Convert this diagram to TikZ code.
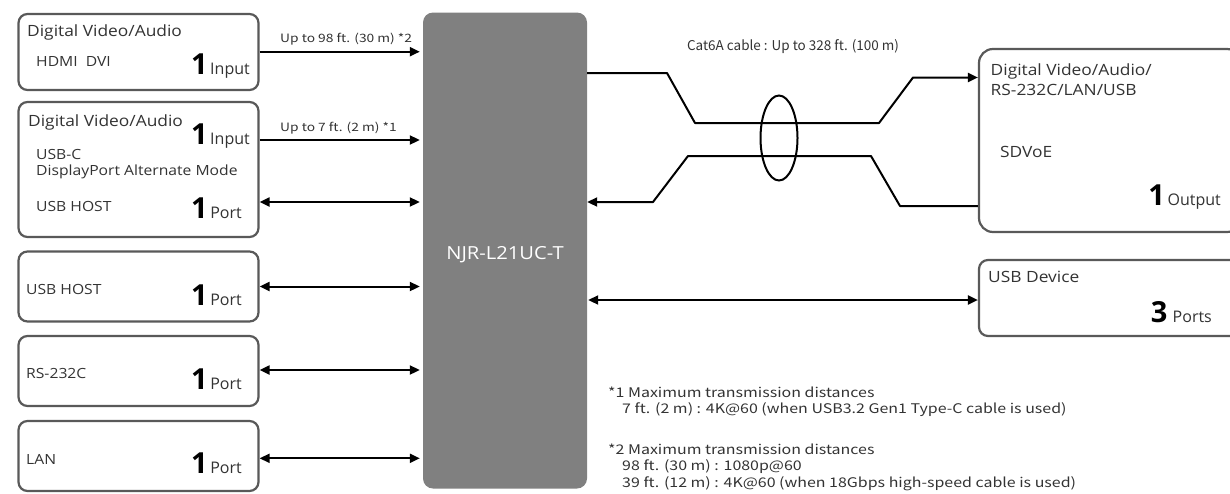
\documentclass[tikz,border=0pt]{standalone}
\usepackage{fontspec}
\setmainfont[FakeStretch=1.12]{Open Sans}
\newfontfamily\plainfont{Open Sans}
\newfontfamily\jpfont{Noto Sans CJK JP}
\newfontfamily\widefont[FakeStretch=1.2]{Noto Sans CJK JP}
\usetikzlibrary{arrows.meta,positioning,shapes.geometric}

\definecolor{boxline}{HTML}{595959}
\definecolor{hubgray}{HTML}{808080}
\definecolor{txtgray}{HTML}{333333}

\tikzset{
  portbox/.style={draw=boxline, line width=2.2pt, rounded corners=9pt, fill=white,
    minimum width=240pt, inner sep=0pt},
  wire/.style={line width=2pt, -{Triangle[length=10pt,width=9pt]}},
  bwire/.style={line width=2pt, {Triangle[length=10pt,width=9pt]}-{Triangle[length=10pt,width=9pt]}},
  head/.style={text=txtgray, inner sep=0pt, anchor=base west, font=\fontsize{15.5}{15.5}\selectfont},
  sub/.style={text=txtgray, inner sep=0pt, anchor=base west, font=\fontsize{14}{14}\selectfont},
  count/.style={inner sep=0pt, anchor=base east, text=txtgray, font=\plainfont\fontsize{16}{16}\selectfont},
  note/.style={text=txtgray, inner sep=0pt, anchor=base west, font=\widefont\fontsize{13.3}{13.3}\selectfont},
}
\newcommand{\num}[1]{{\color{black}\plainfont\fontsize{29}{29}\bfseries #1}}

\begin{document}
\begin{tikzpicture}[x=1pt,y=-1pt]
  \useasboundingbox (0,0) rectangle (1230,493);

  % centre unit
  \node[fill=hubgray, rounded corners=10pt, minimum width=164pt, minimum height=476pt] (hub) at (505,250.5) {};
  \node[text=white, inner sep=0pt, font=\fontsize{18}{18}\selectfont] (hubname) at (505,254.5) {NJR-L21UC-T};

  % left side boxes
  \node[portbox, minimum height=76pt] (hdmi) at (138.5,52) {};
  \node[portbox, minimum height=135pt] (usbc) at (138.5,169.5) {};
  \node[portbox, minimum height=70pt] (host) at (138.5,286.5) {};
  \node[portbox, minimum height=70pt] (serial) at (138.5,371) {};
  \node[portbox, minimum height=70pt] (lan) at (138.5,456) {};

  \node[head] (hdmiA) at (27,36.5) {Digital Video/Audio};
  \node[sub] (hdmiB) at (36,66) {HDMI\ \ DVI};
  \node[count] (hdmiC) at (250,74) {\num{1}\,Input};

  \node[head] (usbcA) at (28,126.5) {Digital Video/Audio};
  \node[count] (usbcB) at (250,144) {\num{1}\,Input};
  \node[sub] (usbcC) at (36,159) {USB-C};
  \node[sub] (usbcD) at (36,175.5) {DisplayPort Alternate Mode};
  \node[sub] (usbcE) at (36,211.5) {USB HOST};
  \node[count] (usbcF) at (242,218) {\num{1}\,Port};

  \node[sub] (hostA) at (26,294) {USB HOST};
  \node[count] (hostB) at (242,305.5) {\num{1}\,Port};
  \node[sub] (serialA) at (26,378) {RS-232C};
  \node[count] (serialB) at (242,389) {\num{1}\,Port};
  \node[sub] (lanA) at (26,464) {LAN};
  \node[count] (lanB) at (242,473) {\num{1}\,Port};

  % right side boxes
  \node[portbox, minimum width=262pt, minimum height=183pt, rounded corners=14pt] (sink) at (1110,140.5) {};
  \node[head] (sinkA) at (990.5,75) {Digital Video/Audio/};
  \node[head] (sinkB) at (990.5,95.5) {RS-232C/LAN/USB};
  \node[head] (sinkC) at (1000,157.5) {SDVoE};
  \node[count] (sinkD) at (1221,205) {\num{1}\,Output};

  \node[portbox, minimum width=262pt, minimum height=76pt] (usbdev) at (1110,298) {};
  \node[head] (usbdevA) at (988,282) {USB Device};
  \node[count] (usbdevB) at (1212,322) {\num{3}\,\,Ports};

  % left connectors
  \draw[wire, shorten >=3pt] ([yshift=0.3pt]hdmi.east) -- ([yshift=0.3pt]hdmi.east -| hub.west)
    node[note, pos=0.12, above=9pt, anchor=base west, font=\widefont\fontsize{11.5}{11.5}\selectfont] (lblA) {Up to 98 ft. (30 m) *2};
  \draw[wire, shorten >=3pt] ([yshift=29.5pt]usbc.east) -- ([yshift=29.5pt]usbc.east -| hub.west)
    node[note, pos=0.12, above=9pt, anchor=base west, font=\widefont\fontsize{11.5}{11.5}\selectfont] (lblB) {Up to 7 ft. (2 m) *1};
  \draw[bwire, shorten >=3pt] ([yshift=-32.5pt]usbc.east) -- ([yshift=-32.5pt]usbc.east -| hub.west);
  \draw[bwire, shorten >=3pt] (host.east) -- (host.east -| hub.west);
  \draw[bwire, shorten >=3pt] ([yshift=1pt]serial.east) -- ([yshift=1pt]serial.east -| hub.west);
  \draw[bwire, shorten >=3pt] ([yshift=-2.3pt]lan.east) -- ([yshift=-2.3pt]lan.east -| hub.west);

  % cable to receiver
  \node[draw, ellipse, line width=2pt, minimum width=37pt, minimum height=85pt, inner sep=0pt] (bundle) at (779,138) {};
  \draw[wire, line join=round] ([yshift=177.5pt]hub.east) -- (667,73) -- (695,123) -- (879,123) -- (913,77.5) -- ([yshift=63pt]sink.west);
  \draw[wire, line join=round] ([yshift=-65.5pt]sink.west) -- (900,206) -- (871,156) -- (688,156) -- (653,202) -- ([yshift=48.5pt]hub.east);
  \node[text=txtgray, inner sep=0pt, anchor=base, font=\jpfont\fontsize{13.5}{13.5}\selectfont] (cable) at (793,50) {Cat6A cable : Up to 328 ft. (100 m)};

  \draw[bwire, shorten <=1pt] ([yshift=-2pt]hub.east |- usbdev.west) -- ([yshift=-2pt]usbdev.west);

  % notes
  \node[note] (fnA) at (608,397) {*1 Maximum transmission distances};
  \node[note] (fnB) at (622,413) {7 ft. (2 m) : 4K@60 (when USB3.2 Gen1 Type-C cable is used)};
  \node[note] (fnC) at (608,454) {*2 Maximum transmission distances};
  \node[note] (fnD) at (622,470.5) {98 ft. (30 m) : 1080p@60};
  \node[note] (fnE) at (622,487) {39 ft. (12 m) : 4K@60 (when 18Gbps high-speed cable is used)};
\end{tikzpicture}
\end{document}
